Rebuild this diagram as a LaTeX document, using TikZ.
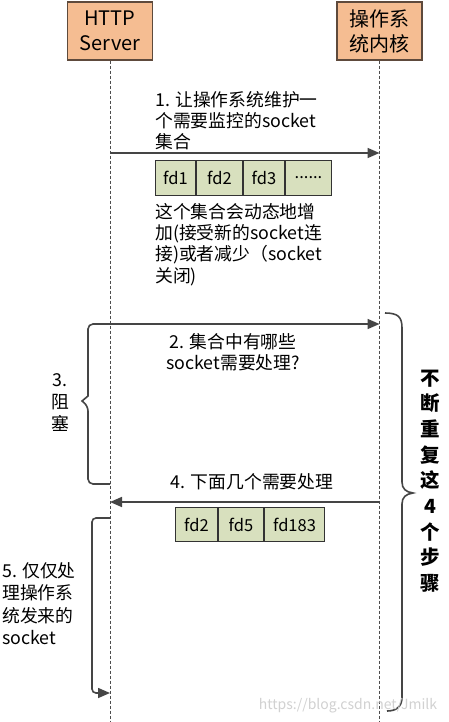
\documentclass[tikz,border=0pt]{standalone}
\usepackage{fontspec}
\setmainfont{Noto Sans CJK SC}
\usetikzlibrary{arrows.meta}
\definecolor{boxfill}{HTML}{F5BD92}
\definecolor{boxline}{HTML}{5E4A3C}
\definecolor{fdfill}{HTML}{D8E0BE}
\definecolor{lineclr}{HTML}{454545}
\begin{document}
\begin{tikzpicture}[x=1pt,y=-1pt,
  actor/.style={draw=boxline, line width=1.2pt, fill=boxfill, minimum width=85pt, minimum height=58pt, align=center, font=\fontsize{20}{25}\selectfont, inner sep=0pt},
  fdcell/.style={draw=black!80, line width=1pt, fill=fdfill, minimum height=35pt, inner sep=0pt, font=\fontsize{16.5}{20}\selectfont},
  life/.style={draw=black!70, line width=1pt, dash pattern=on 3pt off 2pt},
  msg/.style={draw=lineclr, line width=1.6pt, -{Triangle[length=12pt,width=10pt]}},
  txt/.style={align=left, font=\fontsize{17.8}{21.3}\selectfont, inner sep=0pt, anchor=north west},
  ctxt/.style={align=center, font=\fontsize{17.8}{21.3}\selectfont, inner sep=0pt},
]
\useasboundingbox (0,0) rectangle (448,722);
\fill[white] (0,0) rectangle (448,722);

% actors
\node[actor] (srv) at (110,31) {HTTP\\Server};
\node[actor] (os) at (379.5,31) {操作系\\统内核};
\coordinate (srvbot) at (srv.south |- 0,722);
\coordinate (osbot) at (os.south |- 0,722);
\draw[life] (srv.south) -- (srvbot);
\draw[life] (os.south) -- (osbot);

% step 1
\coordinate (s1a) at (srv.south |- 0,153);
\coordinate (s1b) at (os.south |- 0,153);
\draw[msg] (s1a) -- (s1b);
\node[txt] (t1) at (155,91) {1. 让操作系统维护一\\个需要监控的socket\\集合};
\node[fdcell, minimum width=40pt, anchor=north west] (f1) at (155,160) {fd1};
\node[fdcell, minimum width=46pt, anchor=west] (f2) at (f1.east) {fd2};
\node[fdcell, minimum width=41pt, anchor=west] (f3) at (f2.east) {fd3};
\node[fdcell, minimum width=46pt, anchor=west] (f4) at (f3.east) {......};
\node[txt] (t1b) at (155,203) {这个集合会动态地增\\加(接受新的socket连\\接)或者减少（socket\\关闭)};

% step 2 + 3 (blocking bracket)
\coordinate (s2a) at (srv.south |- 0,484);
\coordinate (s2b) at (os.south |- 0,324);
\draw[msg, rounded corners=5pt] (s2a) -- (88,484) -- (88,406) [sharp corners] -- (82,401) -- (88,396) [rounded corners=5pt] -- (88,324) -- (s2b);
\node[ctxt] (t2) at (233,352) {2. 集合中有哪些\\socket需要处理?};
\node[ctxt, font=\fontsize{17.8}{22}\selectfont] (t3) at (60,403) {3.\\阻\\塞};

% step 4
\coordinate (s4a) at (os.south |- 0,502);
\coordinate (s4b) at (srv.south |- 0,502);
\draw[msg] (s4a) -- (s4b);
\node[ctxt] (t4) at (252,482) {4. 下面几个需要处理};
\node[fdcell, minimum width=42pt, minimum height=34pt, anchor=north west] (g1) at (175,507) {fd2};
\node[fdcell, minimum width=45pt, minimum height=34pt, anchor=west] (g2) at (g1.east) {fd5};
\node[fdcell, minimum width=60pt, minimum height=34pt, anchor=west] (g3) at (g2.east) {fd183};

% step 5
\coordinate (s5a) at (srv.south |- 0,518);
\coordinate (s5b) at (srv.south |- 0,693);
\draw[msg, rounded corners=4pt] (s5a) -- (92,518) -- (92,693) -- (s5b);
\node[txt, font=\fontsize{17.8}{22.5}\selectfont] (t5) at (2,562) {5. 仅仅处\\理操作系\\统发来的\\socket};

% repeat brace
\draw[lineclr, line width=1.6pt] (385,313) .. controls (398,313) and (402,317) .. (402,328) -- (402,482) .. controls (402,489) and (406,492) .. (413,493) .. controls (406,494) and (402,497) .. (402,504) -- (402,697) .. controls (402,707) and (396,711) .. (387,711);
\node[align=center, inner sep=0pt, font=\fontsize{19.5}{25.7}\selectfont\bfseries] (rep) at (430,481) {不\\断\\重\\复\\这\\4\\个\\步\\骤};

% watermark
\node[inner sep=0pt, text=black!18, font=\fontsize{14}{16}\selectfont] (wm) at (348,706) {https://blog.csdn.net/Jmilk};
\end{tikzpicture}
\end{document}
